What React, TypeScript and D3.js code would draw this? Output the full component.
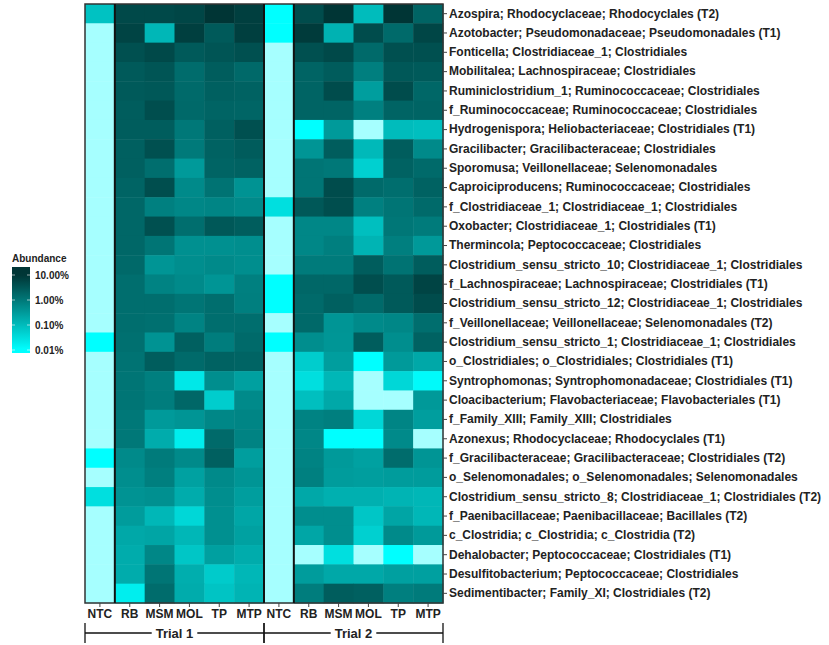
import React, { useEffect, useRef } from 'react';
import * as d3 from 'd3';

// taxa, top to bottom
const taxa = [
    'Azospira; Rhodocyclaceae; Rhodocyclales (T2)',
    'Azotobacter; Pseudomonadaceae; Pseudomonadales (T1)',
    'Fonticella; Clostridiaceae_1; Clostridiales',
    'Mobilitalea; Lachnospiraceae; Clostridiales',
    'Ruminiclostridium_1; Ruminococcaceae; Clostridiales',
    'f_Ruminococcaceae; Ruminococcaceae; Clostridiales',
    'Hydrogenispora; Heliobacteriaceae; Clostridiales (T1)',
    'Gracilibacter; Gracilibacteraceae; Clostridiales',
    'Sporomusa; Veillonellaceae; Selenomonadales',
    'Caproiciproducens; Ruminococcaceae; Clostridiales',
    'f_Clostridiaceae_1; Clostridiaceae_1; Clostridiales',
    'Oxobacter; Clostridiaceae_1; Clostridiales (T1)',
    'Thermincola; Peptococcaceae; Clostridiales',
    'Clostridium_sensu_stricto_10; Clostridiaceae_1; Clostridiales',
    'f_Lachnospiraceae; Lachnospiraceae; Clostridiales (T1)',
    'Clostridium_sensu_stricto_12; Clostridiaceae_1; Clostridiales',
    'f_Veillonellaceae; Veillonellaceae; Selenomonadales (T2)',
    'Clostridium_sensu_stricto_1; Clostridiaceae_1; Clostridiales',
    'o_Clostridiales; o_Clostridiales; Clostridiales (T1)',
    'Syntrophomonas; Syntrophomonadaceae; Clostridiales (T1)',
    'Cloacibacterium; Flavobacteriaceae; Flavobacteriales (T1)',
    'f_Family_XIII; Family_XIII; Clostridiales',
    'Azonexus; Rhodocyclaceae; Rhodocyclales (T1)',
    'f_Gracilibacteraceae; Gracilibacteraceae; Clostridiales (T2)',
    'o_Selenomonadales; o_Selenomonadales; Selenomonadales',
    'Clostridium_sensu_stricto_8; Clostridiaceae_1; Clostridiales (T2)',
    'f_Paenibacillaceae; Paenibacillaceae; Bacillales (T2)',
    'c_Clostridia; c_Clostridia; c_Clostridia (T2)',
    'Dehalobacter; Peptococcaceae; Clostridiales (T1)',
    'Desulfitobacterium; Peptococcaceae; Clostridiales',
    'Sedimentibacter; Family_XI; Clostridiales (T2)',
];

const samples = ['NTC', 'RB', 'MSM', 'MOL', 'TP', 'MTP'];
const trials = ['Trial 1', 'Trial 2'];

// relative abundance (%), columns NTC, RB, MSM, MOL, TP, MTP; 0 = not detected
const trial1 = [
    [0.08, 5, 5, 5.5, 10, 7],
    [0, 6, 0.12, 7, 2.8, 7],
    [0, 4, 5, 2.8, 3.3, 4],
    [0, 2.8, 3.3, 1.5, 2.5, 1.7],
    [0, 2.8, 3, 1.6, 2.3, 2.1],
    [0, 2.5, 4.2, 1.7, 2, 1.9],
    [0, 2.5, 2.5, 1.0, 2.3, 4],
    [0, 2.3, 4, 0.95, 2.1, 2.6],
    [0, 2.3, 1.4, 0.32, 2, 2.1],
    [0, 2, 4.2, 0.55, 1.2, 0.4],
    [0, 1.8, 0.75, 0.6, 0.65, 0.55],
    [0, 1.8, 4, 1.4, 3, 2.5],
    [0, 1.8, 1.1, 0.45, 0.45, 0.48],
    [0, 1.7, 0.38, 0.48, 0.55, 0.48],
    [0, 1.4, 0.7, 0.55, 0.38, 0.75],
    [0, 1.4, 1.4, 1.1, 1.4, 0.8],
    [0, 1.4, 1.3, 0.7, 1.4, 1.4],
    [0.01, 1.3, 0.4, 2.3, 0.85, 1.6],
    [0, 1.2, 2.5, 1.6, 2.1, 2],
    [0, 1.1, 0.8, 0.022, 0.48, 0.26],
    [0, 1.1, 0.85, 1.8, 0.055, 0.55],
    [0, 1.0, 0.32, 0.38, 0.6, 0.65],
    [0, 1.0, 0.17, 0.018, 1.6, 0.7],
    [0.01, 0.55, 0.9, 0.55, 2.3, 0.28],
    [0, 0.48, 0.8, 0.25, 0.55, 0.38],
    [0.03, 0.4, 0.45, 0.17, 0.48, 0.28],
    [0, 0.3, 0.12, 0.04, 0.45, 0.21],
    [0, 0.2, 0.22, 0.12, 0.45, 0.25],
    [0, 0.17, 0.6, 0.07, 0.26, 0.17],
    [0, 0.17, 1.1, 0.16, 0.06, 0.12],
    [0, 0.018, 1.5, 0.17, 0.075, 0.13],
];

const trial2 = [
    [0.01, 4.5, 12, 0.1, 10, 2],
    [0.01, 8, 0.14, 4.5, 1.6, 5.5],
    [0, 4, 5, 1.6, 4, 4],
    [0, 2, 2.6, 0.8, 3, 2.8],
    [0, 2, 4.5, 0.28, 4.5, 1.8],
    [0, 2, 2, 0.75, 2, 2],
    [0, 0.01, 0.32, 0, 0.1, 0.09],
    [0, 0.38, 2.5, 0.11, 2.5, 0.55],
    [0, 1.1, 1.0, 0.05, 2.1, 1.6],
    [0, 1.1, 4.5, 1.6, 1.4, 2.1],
    [0.03, 3, 4.2, 0.75, 1.1, 1.6],
    [0, 0.6, 0.6, 0.09, 1.05, 0.9],
    [0, 0.6, 0.8, 0.13, 0.8, 0.33],
    [0, 0.9, 0.9, 2.5, 1.2, 2.5],
    [0.01, 1.8, 1.8, 4.2, 2.8, 6],
    [0.01, 1.6, 2.3, 1.6, 2.8, 4.5],
    [0, 1.7, 0.38, 0.55, 0.6, 1.4],
    [0.01, 0.48, 0.36, 2.5, 0.48, 2.1],
    [0, 0.055, 0.28, 0.01, 0.32, 0.2],
    [0, 0.03, 0.12, 0, 0.04, 0.012],
    [0, 0.09, 0.2, 0, 0, 0.33],
    [0, 0.7, 0.8, 0.04, 0.65, 0.28],
    [0, 0.6, 0.01, 0.01, 0.55, 0],
    [0, 0.7, 0.32, 0.25, 1.5, 0.38],
    [0, 0.75, 0.3, 0.28, 0.3, 0.3],
    [0, 0.2, 0.15, 0.15, 0.13, 0.12],
    [0, 0.48, 0.48, 0.07, 0.22, 0.12],
    [0, 0.21, 0.48, 0.05, 0.55, 0.32],
    [0, 0, 0.03, 0, 0.01, 0],
    [0, 0.3, 0.2, 0.2, 0.26, 0.26],
    [0, 0.85, 2.5, 2.3, 0.8, 0.9],
];

const legendTicks = [10, 1, 0.1, 0.01];

const FONT = "'Liberation Sans', Arial, sans-serif";
const TEXT = '#222';
const NA_COLOR = '#a6ffff';

const App = () => {
    const ref = useRef<SVGSVGElement>(null);
    const width = 829;
    const height = 645;
    const grid = { left: 85, right: 443, top: 4, bottom: 603 };

    useEffect(() => {
        const svg = d3.select(ref.current);
        svg.selectAll('*').remove();

        const keys = trials.flatMap((t) => samples.map((s) => `${t}|${s}`));
        const xScale = d3.scaleBand<string>().domain(keys).range([grid.left, grid.right]);
        const yScale = d3.scaleBand<string>().domain(taxa).range([grid.top, grid.bottom]);

        // log colour scale, cyan (low) to dark teal (high)
        const color = d3.scaleLog<string>()
            .domain([0.01, 0.1, 1, 10])
            .range(['#00ffff', '#00bcbc', '#007878', '#003535'])
            .clamp(true);

        // cells
        const cells: { key: string; taxon: string; v: number }[] = [];
        [trial1, trial2].forEach((m, ti) => {
            m.forEach((row, ri) => {
                row.forEach((v, ci) => {
                    cells.push({ key: `${trials[ti]}|${samples[ci]}`, taxon: taxa[ri], v });
                });
            });
        });
        svg.append('g')
            .selectAll('rect')
            .data(cells)
            .enter()
            .append('rect')
            .attr('x', (d) => xScale(d.key) as number)
            .attr('y', (d) => yScale(d.taxon) as number)
            .attr('width', xScale.bandwidth() + 0.5)
            .attr('height', yScale.bandwidth() + 0.5)
            .attr('fill', (d) => (d.v > 0 ? color(d.v) : NA_COLOR));

        // frame and separators
        svg.append('rect')
            .attr('x', grid.left)
            .attr('y', grid.top)
            .attr('width', grid.right - grid.left)
            .attr('height', grid.bottom - grid.top)
            .attr('fill', 'none')
            .attr('stroke', '#333')
            .attr('stroke-width', 1.5);
        const seps = [
            `${trials[0]}|RB`, `${trials[1]}|NTC`, `${trials[1]}|RB`,
        ];
        svg.append('g')
            .selectAll('line')
            .data(seps)
            .enter()
            .append('line')
            .attr('x1', (d) => xScale(d) as number)
            .attr('x2', (d) => xScale(d) as number)
            .attr('y1', grid.top)
            .attr('y2', grid.bottom)
            .attr('stroke', '#111')
            .attr('stroke-width', 2);

        // axes
        const xAxis = d3.axisBottom(xScale)
            .tickSize(4)
            .tickPadding(2)
            .tickFormat((d) => d.split('|')[1]);
        const gx = svg.append('g')
            .attr('transform', `translate(0,${grid.bottom})`)
            .call(xAxis);
        gx.select('.domain').remove();
        gx.selectAll('line').attr('stroke', '#444');
        gx.selectAll('text')
            .style('font-family', FONT)
            .style('font-size', '12px')
            .style('font-weight', 'bold')
            .attr('fill', TEXT);

        const yAxis = d3.axisRight(yScale).tickSize(4).tickPadding(2);
        const gy = svg.append('g')
            .attr('transform', `translate(${grid.right},0)`)
            .call(yAxis);
        gy.select('.domain').remove();
        gy.selectAll('line').attr('stroke', '#444');
        gy.selectAll('text')
            .style('font-family', FONT)
            .style('font-size', '12px')
            .style('font-weight', 'bold')
            .attr('fill', TEXT);

        // trial brackets
        const by = 633;
        trials.forEach((t) => {
            const x0 = xScale(`${t}|NTC`) as number;
            const x1 = (xScale(`${t}|MTP`) as number) + xScale.bandwidth();
            const cx = (x0 + x1) / 2;
            const g = svg.append('g');
            const label = g.append('text')
                .attr('x', cx)
                .attr('y', by + 5)
                .attr('text-anchor', 'middle')
                .style('font-family', FONT)
                .style('font-size', '13px')
                .style('font-weight', 'bold')
                .attr('fill', TEXT)
                .text(t);
            const tw = (label.node() as SVGTextElement).getComputedTextLength();
            const segs = [[x0, cx - tw / 2 - 4], [cx + tw / 2 + 4, x1]];
            segs.forEach(([a, b]) => {
                g.append('line')
                    .attr('x1', a).attr('x2', b)
                    .attr('y1', by).attr('y2', by)
                    .attr('stroke', '#111')
                    .attr('stroke-width', 1.3);
            });
            [x0, x1].forEach((x) => {
                g.append('line')
                    .attr('x1', x).attr('x2', x)
                    .attr('y1', by - 10).attr('y2', by + 10)
                    .attr('stroke', '#111')
                    .attr('stroke-width', 1.3);
            });
        });

        // legend
        const legY = d3.scaleLog().domain([0.01, 10]).range([350, 275]);
        const bar = { x: 12, w: 18, top: 267, bottom: 353 };
        const defs = svg.append('defs');
        const grad = defs.append('linearGradient')
            .attr('id', 'abund-grad')
            .attr('x1', '0%').attr('y1', '0%')
            .attr('x2', '0%').attr('y2', '100%');
        d3.range(0, 21).forEach((i) => {
            const y = bar.top + (i / 20) * (bar.bottom - bar.top);
            grad.append('stop')
                .attr('offset', `${i * 5}%`)
                .attr('stop-color', color(legY.invert(y)));
        });
        svg.append('rect')
            .attr('x', bar.x)
            .attr('y', bar.top)
            .attr('width', bar.w)
            .attr('height', bar.bottom - bar.top)
            .style('fill', 'url(#abund-grad)');
        svg.append('text')
            .attr('x', bar.x)
            .attr('y', 262)
            .style('font-family', FONT)
            .style('font-size', '10px')
            .style('font-weight', 'bold')
            .attr('fill', TEXT)
            .text('Abundance');
        const lt = svg.append('g');
        legendTicks.forEach((v) => {
            const y = legY(v);
            [[bar.x, bar.x + 3], [bar.x + bar.w - 3, bar.x + bar.w]].forEach(([a, b]) => {
                lt.append('line')
                    .attr('x1', a).attr('x2', b)
                    .attr('y1', y).attr('y2', y)
                    .attr('stroke', '#fff')
                    .attr('stroke-opacity', 0.6);
            });
            lt.append('text')
                .attr('x', bar.x + bar.w + 5)
                .attr('y', y)
                .attr('dy', '0.35em')
                .style('font-family', FONT)
                .style('font-size', '10px')
                .style('font-weight', 'bold')
                .attr('fill', TEXT)
                .text(`${v.toFixed(2)}%`);
        });
    }, []);

    return (
        <svg
            ref={ref}
            width={width}
            height={height}
            style={{ position: 'absolute', left: 0, top: 0, background: '#fff' }}
        />
    );
};

export default App;
